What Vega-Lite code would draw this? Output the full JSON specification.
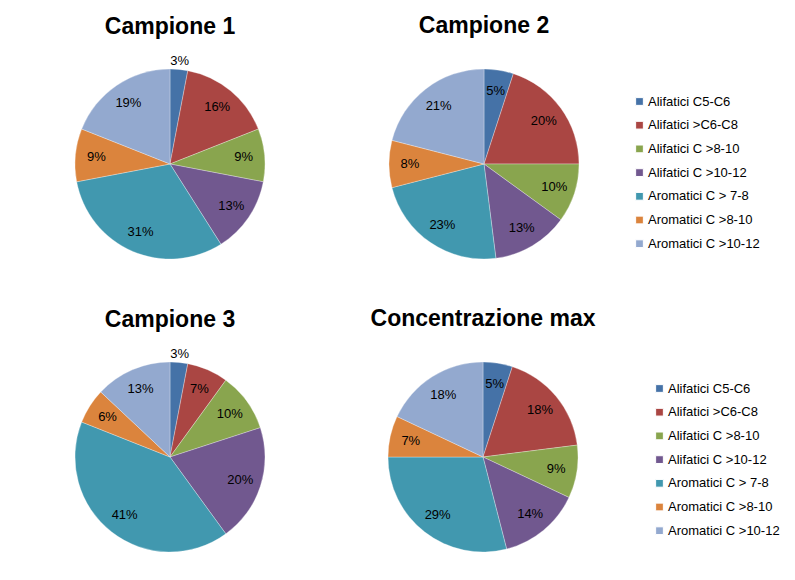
{
  "$schema": "https://vega.github.io/schema/vega-lite/v6.json",
  "background": "white",
  "padding": {"left": 74, "top": 15, "right": 5, "bottom": 5},
  "config": {
    "font": "Liberation Sans",
    "view": {"stroke": null},
    "title": {"font": "Liberation Sans", "fontSize": 23, "fontWeight": "bold", "color": "black", "anchor": "middle"},
    "legend": {"labelFont": "Liberation Sans", "labelFontSize": 13, "labelColor": "black", "symbolType": "square", "symbolSize": 60, "symbolStrokeWidth": 1, "rowPadding": 9.7, "labelOffset": 2, "titleFontSize": 10, "padding": 0}
  },
  "datasets": {
    "pie": [
      {"campione": "Campione 1", "ord": 1, "categoria": "Alifatici C5-C6", "valore": 0.03},
      {"campione": "Campione 1", "ord": 2, "categoria": "Alifatici >C6-C8", "valore": 0.16},
      {"campione": "Campione 1", "ord": 3, "categoria": "Alifatici C >8-10", "valore": 0.09},
      {"campione": "Campione 1", "ord": 4, "categoria": "Alifatici C >10-12", "valore": 0.13},
      {"campione": "Campione 1", "ord": 5, "categoria": "Aromatici C > 7-8", "valore": 0.31},
      {"campione": "Campione 1", "ord": 6, "categoria": "Aromatici C >8-10", "valore": 0.09},
      {"campione": "Campione 1", "ord": 7, "categoria": "Aromatici C >10-12", "valore": 0.19},
      {"campione": "Campione 2", "ord": 1, "categoria": "Alifatici C5-C6", "valore": 0.05},
      {"campione": "Campione 2", "ord": 2, "categoria": "Alifatici >C6-C8", "valore": 0.20},
      {"campione": "Campione 2", "ord": 3, "categoria": "Alifatici C >8-10", "valore": 0.10},
      {"campione": "Campione 2", "ord": 4, "categoria": "Alifatici C >10-12", "valore": 0.13},
      {"campione": "Campione 2", "ord": 5, "categoria": "Aromatici C > 7-8", "valore": 0.23},
      {"campione": "Campione 2", "ord": 6, "categoria": "Aromatici C >8-10", "valore": 0.08},
      {"campione": "Campione 2", "ord": 7, "categoria": "Aromatici C >10-12", "valore": 0.21},
      {"campione": "Campione 3", "ord": 1, "categoria": "Alifatici C5-C6", "valore": 0.03},
      {"campione": "Campione 3", "ord": 2, "categoria": "Alifatici >C6-C8", "valore": 0.07},
      {"campione": "Campione 3", "ord": 3, "categoria": "Alifatici C >8-10", "valore": 0.10},
      {"campione": "Campione 3", "ord": 4, "categoria": "Alifatici C >10-12", "valore": 0.20},
      {"campione": "Campione 3", "ord": 5, "categoria": "Aromatici C > 7-8", "valore": 0.41},
      {"campione": "Campione 3", "ord": 6, "categoria": "Aromatici C >8-10", "valore": 0.06},
      {"campione": "Campione 3", "ord": 7, "categoria": "Aromatici C >10-12", "valore": 0.13},
      {"campione": "Concentrazione max", "ord": 1, "categoria": "Alifatici C5-C6", "valore": 0.05},
      {"campione": "Concentrazione max", "ord": 2, "categoria": "Alifatici >C6-C8", "valore": 0.18},
      {"campione": "Concentrazione max", "ord": 3, "categoria": "Alifatici C >8-10", "valore": 0.09},
      {"campione": "Concentrazione max", "ord": 4, "categoria": "Alifatici C >10-12", "valore": 0.14},
      {"campione": "Concentrazione max", "ord": 5, "categoria": "Aromatici C > 7-8", "valore": 0.29},
      {"campione": "Concentrazione max", "ord": 6, "categoria": "Aromatici C >8-10", "valore": 0.07},
      {"campione": "Concentrazione max", "ord": 7, "categoria": "Aromatici C >10-12", "valore": 0.18}
    ]
  },
  "resolve": {"scale": {"color": "independent"}, "legend": {"color": "independent"}},
  "spacing": 48,
  "vconcat": [
    {
      "spacing": 122,
      "hconcat": [
        {
          "width": 190, "height": 190,
          "title": {"text": "Campione 1", "offset": 16},
          "data": {"name": "pie"},
          "transform": [{"filter": "datum.campione === 'Campione 1'"}],
          "encoding": {
            "theta": {"field": "valore", "type": "quantitative", "stack": true},
            "order": {"field": "ord", "type": "quantitative"},
            "color": {"field": "categoria", "type": "nominal",
              "scale": {"domain": ["Alifatici C5-C6", "Alifatici >C6-C8", "Alifatici C >8-10", "Alifatici C >10-12", "Aromatici C > 7-8", "Aromatici C >8-10", "Aromatici C >10-12"],
                        "range": ["#4572A7", "#AA4643", "#89A54E", "#71588F", "#4198AF", "#DB843D", "#93A9CF"]},
              "legend": {"title": " ", "titlePadding": 16, "offset": 53, "symbolStrokeColor": "#555555"}}
          },
          "layer": [
            {"mark": {"type": "arc", "outerRadius": 95, "stroke": "#ffffff", "strokeWidth": 0.5, "strokeOpacity": 0.6}},
            {"mark": {"type": "text", "radius": {"expr": "datum.valore <= 0.03 ? 103 : 74"}, "fontSize": 13, "font": "Liberation Sans"},
             "encoding": {"text": {"field": "valore", "type": "quantitative", "format": ".0%"}, "color": {"value": "black"}}}
          ]
        },
        {
          "width": 190, "height": 190,
          "title": {"text": "Campione 2", "offset": 30},
          "data": {"name": "pie"},
          "transform": [{"filter": "datum.campione === 'Campione 2'"}],
          "encoding": {
            "theta": {"field": "valore", "type": "quantitative", "stack": true},
            "order": {"field": "ord", "type": "quantitative"},
            "color": {"field": "categoria", "type": "nominal"}
          },
          "layer": [
            {"mark": {"type": "arc", "outerRadius": 95, "stroke": "#ffffff", "strokeWidth": 0.5, "strokeOpacity": 0.6}},
            {"mark": {"type": "text", "radius": {"expr": "datum.valore <= 0.03 ? 103 : 74"}, "fontSize": 13, "font": "Liberation Sans"},
             "encoding": {"text": {"field": "valore", "type": "quantitative", "format": ".0%"}, "color": {"value": "black"}}}
          ]
        }
      ]
    },
    {
      "spacing": 104,
      "hconcat": [
        {
          "width": 190, "height": 190,
          "title": {"text": "Campione 3", "offset": 16},
          "data": {"name": "pie"},
          "transform": [{"filter": "datum.campione === 'Campione 3'"}],
          "encoding": {
            "theta": {"field": "valore", "type": "quantitative", "stack": true},
            "order": {"field": "ord", "type": "quantitative"},
            "color": {"field": "categoria", "type": "nominal",
              "scale": {"domain": ["Alifatici C5-C6", "Alifatici >C6-C8", "Alifatici C >8-10", "Alifatici C >10-12", "Aromatici C > 7-8", "Aromatici C >8-10", "Aromatici C >10-12"],
                        "range": ["#4572A7", "#AA4643", "#89A54E", "#71588F", "#4198AF", "#DB843D", "#93A9CF"]},
              "legend": {"title": " ", "titlePadding": 10, "offset": 57, "symbolStrokeColor": "#555555"}}
          },
          "layer": [
            {"mark": {"type": "arc", "outerRadius": 95, "stroke": "#ffffff", "strokeWidth": 0.5, "strokeOpacity": 0.6}},
            {"mark": {"type": "text", "radius": {"expr": "datum.valore <= 0.03 ? 103 : 74"}, "fontSize": 13, "font": "Liberation Sans"},
             "encoding": {"text": {"field": "valore", "type": "quantitative", "format": ".0%"}, "color": {"value": "black"}}}
          ]
        },
        {
          "width": 190, "height": 190,
          "title": {"text": "Concentrazione max", "offset": 30},
          "data": {"name": "pie"},
          "transform": [{"filter": "datum.campione === 'Concentrazione max'"}],
          "encoding": {
            "theta": {"field": "valore", "type": "quantitative", "stack": true},
            "order": {"field": "ord", "type": "quantitative"},
            "color": {"field": "categoria", "type": "nominal"}
          },
          "layer": [
            {"mark": {"type": "arc", "outerRadius": 95, "stroke": "#ffffff", "strokeWidth": 0.5, "strokeOpacity": 0.6}},
            {"mark": {"type": "text", "radius": {"expr": "datum.valore <= 0.03 ? 103 : 74"}, "fontSize": 13, "font": "Liberation Sans"},
             "encoding": {"text": {"field": "valore", "type": "quantitative", "format": ".0%"}, "color": {"value": "black"}}}
          ]
        }
      ]
    }
  ]
}
